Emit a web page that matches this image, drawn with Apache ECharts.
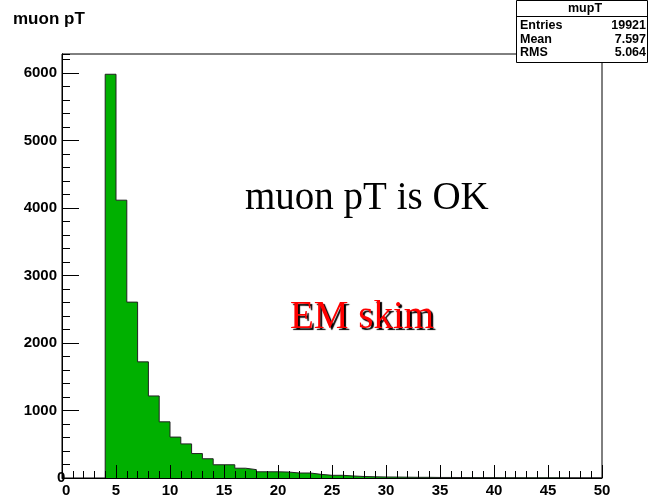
<!DOCTYPE html>
<html>
<head>
<meta charset="utf-8">
<script src="https://cdn.jsdelivr.net/npm/echarts@6/dist/echarts.min.js"></script>
<style>html,body{margin:0;padding:0;background:#fff;}#c{width:649px;height:502px;}</style>
</head>
<body>
<div id="c"></div>
<script>
// Histogram "mupT": bin low edges (width 1) and bin contents
const binLowEdges = [4,5,6,7,8,9,10,11,12,13,14,15,16,17,18,19,20,21,22,23,24,25,26,27,28,29,30,31,32,33,34,35,36,37,38,39,40,41,42,43,44,45,46,47,48,49];
const binCounts   = [5980,4115,2605,1720,1215,832,606,505,362,285,196,196,145,124,92,92,88,74,74,54,40,40,30,22,18,15,14,12,10,10,8,8,7,6,5,5,3,3,2,2,2,2,1,1,1,1];
const histUpperEdge = 50;
const xTickLabels = [0,5,10,15,20,25,30,35,40,45,50];
const yTickLabels = [0,1000,2000,3000,4000,5000,6000];
const statsName = 'mupT';
const statsRows = [['Entries','19921'],['Mean','7.597'],['RMS','5.064']];
const titleText = 'muon pT';
const note1 = 'muon pT is OK';
const note2 = 'EM skim';

const stepData = [[binLowEdges[0], 0]];
binLowEdges.forEach((x, i) => stepData.push([x, binCounts[i]]));
stepData.push([histUpperEdge, binCounts[binCounts.length - 1]]);
stepData.push([histUpperEdge, 0]);

const axisFont = {color:'#000', fontFamily:'Liberation Sans, Arial, sans-serif', fontWeight:'bold', fontSize:15};
const statFont = 'bold 12.5px Liberation Sans, Arial, sans-serif';

const chart = echarts.init(document.getElementById('c'), null, {renderer:'canvas'});
const statsGraphics = [
  {type:'rect', shape:{x:516.5, y:0.5, width:131, height:62}, style:{fill:'#fff', stroke:'#000', lineWidth:1}, z:100},
  {type:'line', shape:{x1:516.5, y1:16.5, x2:647.5, y2:16.5}, style:{stroke:'#000', lineWidth:1}, z:101},
  {type:'text', x:585, y:8.5, style:{text:statsName, fill:'#000', font:statFont, textAlign:'center', textVerticalAlign:'middle'}, z:101}
];
statsRows.forEach((r, i) => {
  const y = 26 + i * 13.5;
  statsGraphics.push({type:'text', x:520, y:y, style:{text:r[0], fill:'#000', font:statFont, textAlign:'left', textVerticalAlign:'middle'}, z:101});
  statsGraphics.push({type:'text', x:646, y:y, style:{text:r[1], fill:'#000', font:statFont, textAlign:'right', textVerticalAlign:'middle'}, z:101});
});

chart.setOption({
  animation:false,
  backgroundColor:'#fff',
  grid:{left:62, right:47, top:54, bottom:24, show:true, borderColor:'#000', borderWidth:1, backgroundColor:'transparent'},
  xAxis:{
    type:'value', min:0, max:50, interval:5, z:10,
    axisLine:{show:true, onZero:false, lineStyle:{color:'#000', width:1}},
    axisTick:{show:true, inside:true, length:13, lineStyle:{color:'#000'}},
    minorTick:{show:true, splitNumber:5, length:7, lineStyle:{color:'#000'}},
    splitLine:{show:false},
    axisLabel:Object.assign({margin:5, alignMinLabel:'left', formatter:v => xTickLabels.indexOf(v) >= 0 ? String(v) : ''}, axisFont)
  },
  yAxis:[{
    type:'value', min:0, max:6280, interval:1000, position:'left', z:10,
    axisLine:{show:true, lineStyle:{color:'#000', width:1}},
    axisTick:{show:true, inside:true, length:17, lineStyle:{color:'#000'}},
    splitLine:{show:false},
    axisLabel:Object.assign({margin:5, showMaxLabel:false, alignMinLabel:'bottom', formatter:v => yTickLabels.indexOf(v) >= 0 ? String(v) : ''}, axisFont)
  },{
    type:'value', min:0, max:6280, interval:200, position:'left', offset:0, z:10,
    axisLine:{show:true, lineStyle:{color:'#000', width:1}},
    axisTick:{show:true, inside:true, length:8, lineStyle:{color:'#000'}},
    splitLine:{show:false},
    axisLabel:{show:false}
  }],
  series:[{
    type:'line', step:'end', data:stepData, symbol:'none', z:2,
    lineStyle:{color:'#222', width:1},
    areaStyle:{color:'#00b000', opacity:1}
  }],
  graphic:[
    {type:'text', left:13, top:11, style:{text:titleText, fill:'#000', font:'bold 17px Liberation Sans, Arial, sans-serif'}},
    {type:'text', x:245, y:199, style:{text:note1, fill:'#000', font:'39px Liberation Serif, Times New Roman, serif', textVerticalAlign:'middle'}},
    {type:'text', x:290, y:318, style:{text:note2, fill:'#ff0000', font:'39px Liberation Serif, Times New Roman, serif', textVerticalAlign:'middle', textShadowColor:'#000', textShadowOffsetX:2, textShadowOffsetY:2, textShadowBlur:1}}
  ].concat(statsGraphics)
});
</script>
</body>
</html>
